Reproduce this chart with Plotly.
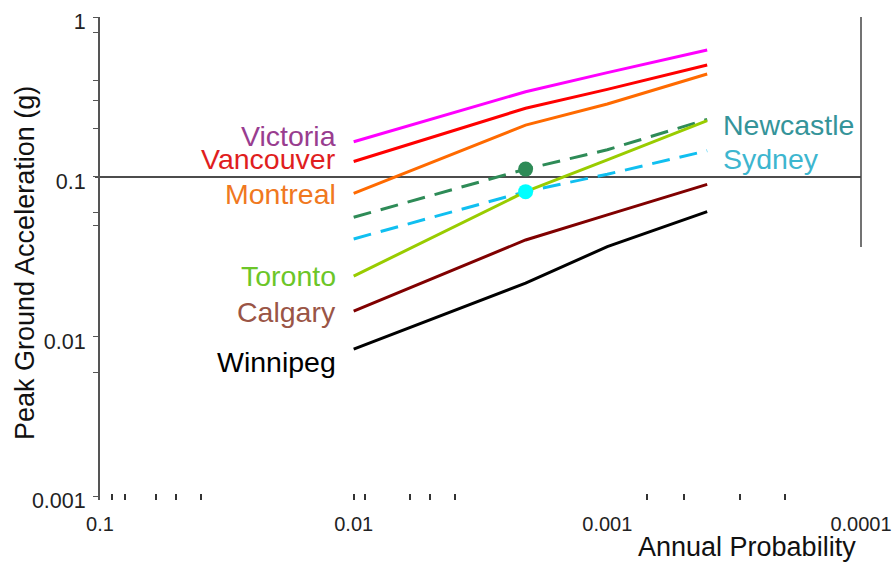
import plotly.graph_objects as go

# Annual probability of exceedance (x) and peak ground acceleration in g (y)
annual_prob = [0.01, 0.0021, 0.001, 0.000404]

victoria  = [0.166, 0.341, 0.449, 0.622]
vancouver = [0.125, 0.269, 0.353, 0.501]
montreal  = [0.079, 0.211, 0.286, 0.440]
newcastle = [0.056, 0.112, 0.148, 0.229]
sydney    = [0.041, 0.081, 0.104, 0.146]
toronto   = [0.024, 0.081, 0.128, 0.225]
calgary   = [0.0145, 0.0404, 0.058, 0.090]
winnipeg  = [0.0084, 0.0217, 0.0367, 0.0607]

marker_index = 1  # the 1/475 point highlighted for Newcastle and Sydney

x_tickvals = [0.1, 0.01, 0.001, 0.0001]
x_ticktext = ["0.1", "0.01", "0.001", "0.0001"]
x_minor = [0.09, 0.08, 0.06, 0.05, 0.04, 0.01, 0.009, 0.006, 0.005, 0.004,
           0.0007, 0.0005, 0.0003, 0.0002]
y_tickvals = [1, 0.1, 0.01, 0.001]
y_ticktext = ["1", "0.1", "0.01", "0.001"]
y_minor = [0.8, 0.4, 0.3, 0.2, 0.06, 0.05, 0.006]

series = [
    ("Victoria", victoria, "#FF00FF", "solid"),
    ("Vancouver", vancouver, "#FF0000", "solid"),
    ("Montreal", montreal, "#FF6A00", "solid"),
    ("Newcastle", newcastle, "#2E8B57", "18px,10px"),
    ("Sydney", sydney, "#10BFF0", "18px,10px"),
    ("Toronto", toronto, "#99CC00", "solid"),
    ("Calgary", calgary, "#800000", "solid"),
    ("Winnipeg", winnipeg, "#000000", "solid"),
]

FONT = "Liberation Sans, Arial, sans-serif"
fig = go.Figure()
for name, vals, color, dash in series:
    fig.add_trace(go.Scatter(x=annual_prob, y=vals, mode="lines", name=name,
                             line=dict(color=color, width=3, dash=dash),
                             showlegend=False, hoverinfo="x+y+name"))

fig.add_trace(go.Scatter(x=[annual_prob[marker_index]], y=[newcastle[marker_index]],
                         mode="markers", marker=dict(color="#2E8B57", size=15),
                         showlegend=False, name="Newcastle 1/475"))
fig.add_trace(go.Scatter(x=[annual_prob[marker_index]], y=[sydney[marker_index]],
                         mode="markers", marker=dict(color="#00FFFF", size=15),
                         showlegend=False, name="Sydney 1/475"))

# 0.1 g reference line
fig.add_shape(type="line", xref="paper", yref="y", x0=-0.0066, x1=1, y0=0.1, y1=0.1,
              line=dict(color="#111111", width=1.5), layer="below")
# right-hand vertical rule
fig.add_shape(type="line", xref="paper", yref="paper", x0=1, x1=1, y0=0.524, y1=1,
              line=dict(color="#444444", width=1.5))

# city labels
left_labels = [
    ("Victoria", 0.7526, "#993D8F"),
    ("Vancouver", 0.706, "#E01E1E"),
    ("Montreal", 0.6335, "#F07820"),
    ("Toronto", 0.4638, "#6CC628"),
    ("Calgary", 0.389, "#9A5546"),
    ("Winnipeg", 0.286, "#000000"),
]
for txt, yp, col in left_labels:
    fig.add_annotation(text=txt, xref="paper", yref="paper", x=0.3127, y=yp,
                       xanchor="right", yanchor="middle", showarrow=False,
                       font=dict(family=FONT, size=28.5, color=col))
right_labels = [
    ("Newcastle", 0.7764, "#35949A"),
    ("Sydney", 0.706, "#3DB6CF"),
]
for txt, yp, col in right_labels:
    fig.add_annotation(text=txt, xref="paper", yref="paper", x=0.816, y=yp,
                       xanchor="left", yanchor="middle", showarrow=False,
                       font=dict(family=FONT, size=28.5, color=col))

# axis titles
fig.add_annotation(text="Peak Ground Acceleration (g)", xref="paper", yref="paper",
                   x=(25 - 100) / 761, y=(500 - 263) / 483, textangle=-90,
                   xanchor="center", yanchor="middle", showarrow=False,
                   font=dict(family=FONT, size=27, color="#111111"))
fig.add_annotation(text="Annual Probability", xref="paper", yref="paper",
                   x=(747 - 100) / 761, y=-(547 - 500) / 483,
                   xanchor="center", yanchor="middle", showarrow=False,
                   font=dict(family=FONT, size=27, color="#111111"))

fig.update_layout(
    width=892, height=563,
    margin=dict(l=100, r=31, t=17, b=63, autoexpand=False),
    paper_bgcolor="white", plot_bgcolor="white",
    font=dict(family=FONT, size=21, color="#222222"),
    xaxis=dict(type="log", range=[-1, -4], showgrid=False, zeroline=False,
               showline=False, tickvals=x_tickvals, ticktext=x_ticktext,
               automargin=False, ticklabeloverflow="allow",
               ticks="outside", ticklen=0, ticklabelstandoff=6,
               tickfont=dict(size=20, color="#222222"),
               minor=dict(tickvals=x_minor, ticks="inside", ticklen=6,
                          tickcolor="#333333", tickwidth=1.5)),
    yaxis=dict(type="log", range=[-3.019, 0], showgrid=False, zeroline=False,
               showline=True, linecolor="#555555", linewidth=2,
               tickvals=y_tickvals, ticktext=y_ticktext, automargin=False,
               ticklabeloverflow="allow", ticklabelstandoff=3, ticklabelshift=4,
               ticks="outside", ticklen=5, tickcolor="#555555",
               tickfont=dict(size=21.5, color="#222222"),
               minor=dict(tickvals=y_minor, ticks="outside", ticklen=5,
                          tickcolor="#555555")),
)

fig.write_html("out.html", config={"displayModeBar": False},
               post_script="document.body.style.margin='0';document.body.style.overflow='hidden';")
